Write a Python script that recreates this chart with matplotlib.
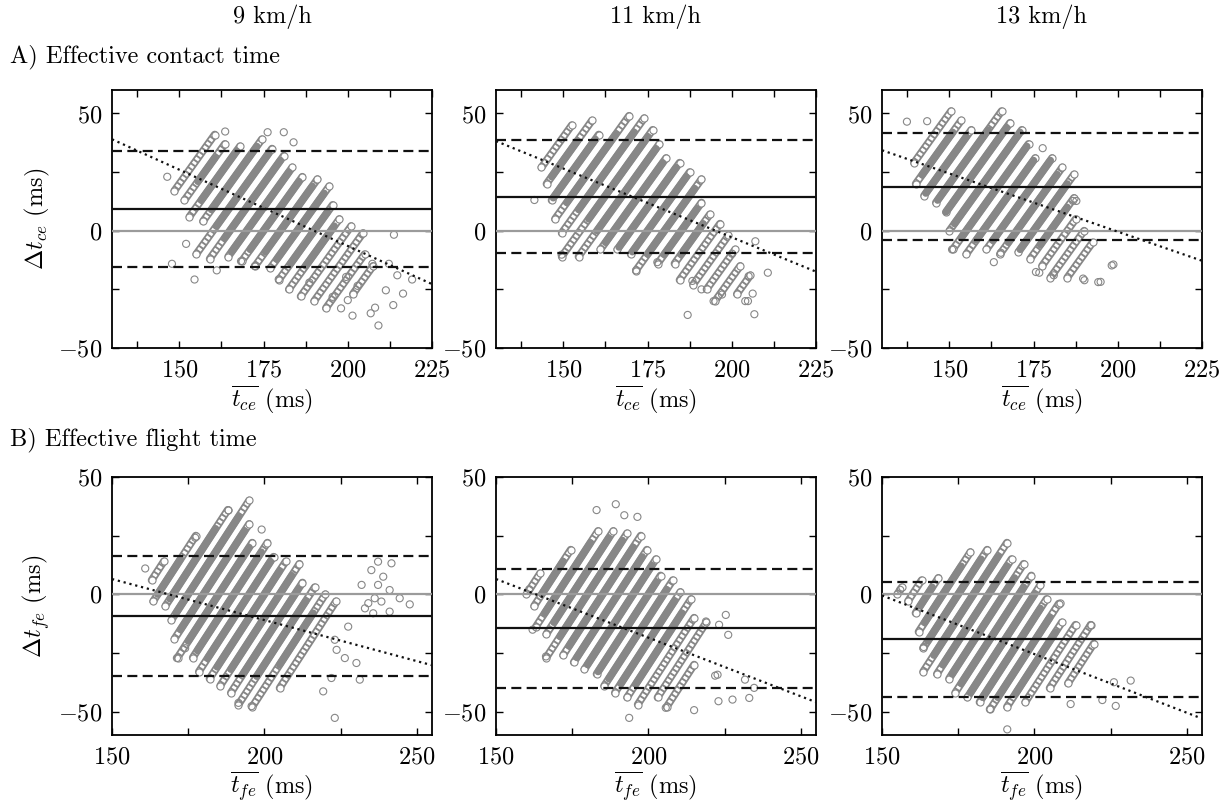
import matplotlib
matplotlib.use('Agg')
import matplotlib.pyplot as plt
import matplotlib.patheffects as pe
import numpy as np

plt.rcParams['font.family'] = 'serif'
plt.rcParams['font.serif'] = ['cmr10']
plt.rcParams['mathtext.fontset'] = 'cm'
plt.rcParams['axes.formatter.use_mathtext'] = True
plt.rcParams['font.size'] = 17.5

GREY = '#878787'

speeds = ['9 km/h', '11 km/h', '13 km/h']

# stripes: (reference value b, chain low, chain high, dense low, dense high) -- diff = 2*(mean - b)
# ---- A) effective contact time ----
A9_stripes = [
    (140, 17, 41, None, None), (145, 13, 37, 21, 31), (150, 6, 36, 13, 34),
    (155, 4, 39, 9, 36), (160, -10, 35, 2, 33), (165, -12, 32, -3, 30),
    (170, -11, 27, -9, 25), (175, -13, 23, -8, 21), (180, -15, 22, -9, 19),
    (185, -16, 19, -12, 16), (190, -21, 11, -14, 8), (195, -25, 5, -15, 2),
    (200, -28, 2, None, None), (205, -30, -1, None, None), (210, -33, -10, None, None),
    (215, -27, -15, None, None),
]
A9_px = [146.4, 147.8, 154.5, 152.0, 163.6, 176.2, 181.0, 183.9, 161.1, 168.3, 172.4, 213.7,
         219.1, 216.4, 213.5, 209.1, 208.1, 206.8, 201.4, 198.0, 200.0, 195.5, 202.9, 199.5,
         188.6, 179.5, 211.3, 214.7, 212.2, 207.3]
A9_py = [23, -14.1, -20.8, -5.6, 42.3, 42, 42, 37.7, -16.9, -13, -15.1, -1.7,
         -20.8, -26.8, -31.7, -40.4, -32.8, -35.2, -36.2, -33.1, -29.6, -28.2, -23.5, -19.7,
         -22.1, -20.7, -25.4, -19, -14.1, -14.1]
A9_lines = [9.2, -15.5, 33.8]      # bias, lower LoA, upper LoA
A9_reg = [123.5, -0.65]            # intercept, slope

A11_stripes = [
    (130, 27, 45, None, None), (135, 20, 47, 23, 38), (140, 13, 41, 14, 39),
    (145, 5, 49, 12, 41), (150, -1, 48, 9, 42), (155, -11, 43, 5, 40),
    (160, -11, 37, 0, 35), (165, -8, 31, -5, 29), (170, -8, 29, -7, 27),
    (175, -10, 25, -9, 23), (180, -17, 22, -10, 18), (185, -14, 12, -10, 9),
    (190, -14, 7, -10, 3), (195, -21, 3, None, None), (200, -23, -2, None, None),
    (205, -25, -8, None, None), (210, -30, -15, None, None), (215, -27, -19, None, None),
]
A11_px = [141.4, 186.9, 206.7, 210.7, 207.0, 171.6, 204.8, 206.2, 200.1, 205.0, 204.0,
          197.1, 194.6, 191.0, 188.3, 177.9, 149.5]
A11_py = [13.1, -35.9, -35.6, -17.9, -4.5, -16.9, -30, -26.8, -9.8, -19.4, -30,
          -27.2, -30, -25, -21.4, -13.4, -10.2]
A11_lines = [14.5, -9.6, 38.7]
A11_reg = [114.4, -0.586]

A13_stripes = [
    (125, 29, 51, None, None), (130, 20, 47, 24, 42), (135, 15, 43, 16, 40),
    (140, 12, 51, 13, 43), (145, 8, 46, 8, 44), (150, 0, 43, 3, 42),
    (155, -8, 37, -3, 36), (160, -10, 31, -4, 30), (165, -8, 31, -4, 30),
    (170, -10, 27, -5, 24), (175, -9, 24, -8, 20), (180, -12, 14, -6, 10),
    (185, -15, 5, None, None), (190, -20, 0, None, None), (195, -20, -5, None, None),
]
A13_px = [137.4, 143.4, 177.7, 186.7, 198.2, 194.2, 189.7, 175.7, 150.8, 163.2, 165.3,
          176.7, 181.0, 190.1, 194.9, 198.7, 187.7]
A13_py = [46.5, 46.7, 35.2, 12.7, -14.8, -21.9, -20.4, -17.6, -8, -13.4, -9.4,
          -17.9, -19, -21.1, -21.8, -14.4, 12.7]
A13_lines = [18.7, -4.0, 41.5]
A13_reg = [98.8, -0.496]

# ---- B) effective flight time ----
B9_stripes = [
    (160, 6, 14, None, None), (165, -3, 25, 0, 15), (170, -5, 36, -2, 28),
    (175, -11, 40, -8, 33), (180, -19, 30, -15, 27), (185, -27, 22, -20, 20),
    (190, -27, 22, -24, 18), (195, -33, 16, -27, 14), (200, -36, 14, -31, 10),
    (205, -39, 13, -32, 8), (210, -42, 5, -34, 2), (215, -47, 3, -35, -3),
    (220, -48, 0, -30, -8), (225, -40, -3, None, None),
]
B9_px = [160.9, 177.3, 199.1, 188.2, 171.3, 174.0, 191.5, 195.8, 223.1, 219.3, 231.3,
         230.2, 226.4, 222.0, 231.9, 235.1, 237.3, 241.7, 239.0, 237.3, 241.1, 241.1,
         244.4, 247.7, 233.0, 234.1, 236.2, 235.7, 238.4, 227.5, 223.1, 223.7]
B9_py = [11, 24.1, 27.6, 35.8, -27.2, -23, -46.3, -47.7, -52.7, -41.4, -36.4,
         -29.3, -27.2, -35.7, 4, 10.3, 13.9, 13.2, 7.5, 4, 1.8, -7.4,
         -1.7, -4.3, -6, -3.8, -1.7, -8.1, -3.1, -13.8, -19.4, -23.7]
B9_lines = [-9.1, -34.7, 16.4]
B9_reg = [59.0, -0.35]

B11_stripes = [
    (160, 0, 9, None, None), (165, -5, 19, 0, 14), (170, -14, 27, -8, 22),
    (175, -17, 27, -12, 24), (180, -27, 26, -18, 23), (185, -26, 25, -22, 20),
    (190, -29, 19, -27, 16), (195, -32, 15, -30, 12), (200, -34, 8, -33, 5),
    (205, -39, 6, -36, 2), (210, -42, 1, -38, -3), (215, -44, -2, -38, -8),
    (220, -47, -10, None, None), (225, -44, -12, None, None), (230, -48, -30, None, None),
]
B11_px = [183.0, 189.3, 192.1, 196.4, 160.9, 162.0, 166.4, 225.4, 223.2, 226.2, 193.7,
          205.7, 215.0, 223.0, 227.6, 233.1, 234.7, 231.7, 221.9, 218.9, 222.7]
B11_py = [35.9, 38.4, 33.7, 33, 2.1, -15.1, -26.5, -8.8, -13, -17.3, -52.7,
          -48.4, -49.4, -45.6, -44.9, -44.2, -39.9, -36.4, -34.7, -11.6, -34.3]
B11_lines = [-14.4, -39.9, 10.8]
B11_reg = [81.5, -0.5]

B13_stripes = [
    (155, 0, 3, None, None), (160, -3, 6, None, None), (165, -8, 7, -5, 3),
    (170, -16, 18, -12, 12), (175, -23, 19, -20, 15), (180, -33, 22, -26, 16),
    (185, -34, 15, -30, 12), (190, -36, 13, -34, 7), (195, -42, 8, -38, 3),
    (200, -44, 4, -42, 0), (205, -46, -2, -44, -6), (210, -49, -4, -44, -10),
    (215, -48, -12, -42, -16), (220, -46, -13, None, None), (225, -40, -13, None, None),
    (230, -38, -21, None, None),
]
B13_px = [191.1, 226.1, 231.6, 226.7, 222.3, 208.6, 163.7, 156.0, 211.9, 185.4, 218.5]
B13_py = [-57.6, -37.5, -36.8, -47.6, -45.1, -3.9, -22.5, 1.9, -46.8, -49, -13.2]
B13_lines = [-19.2, -43.6, 5.2]
B13_reg = [74.5, -0.5]

# chain of overlapping open circles: grey band with a broken white core
CHAIN = [pe.Stroke(linewidth=5.6, foreground=GREY, capstyle='round'),
         pe.Stroke(linewidth=3.0, foreground='white', capstyle='butt',
                   dashes={'dash_offset': 0, 'dash_list': [2.0, 1.4]})]


def draw_panel(ax, stripes, px, py, lines, reg, xlim, ylim, xmajor, xminor):
    for b, clo, chi, dlo, dhi in stripes:
        ax.plot([b + clo / 2, b + chi / 2], [clo, chi], color=GREY, path_effects=CHAIN)
        ax.scatter([b + clo / 2, b + chi / 2], [clo, chi], s=26, facecolors='white',
                   edgecolors=GREY, linewidths=0.8, zorder=2.1)
        if dlo is not None:
            ax.plot([b + dlo / 2, b + dhi / 2], [dlo, dhi], color=GREY, lw=5.2,
                    solid_capstyle='round', zorder=2.2)
    ax.scatter(px, py, s=26, facecolors='none', edgecolors=GREY, linewidths=0.8, zorder=2.3)

    bias, loa_lo, loa_hi = lines
    ax.axhline(0, color='#9b9b9b', lw=1.6, zorder=3)
    ax.axhline(bias, color='#111111', lw=1.6, zorder=3)
    ax.axhline(loa_lo, color='#111111', lw=1.6, ls=(0, (4.5, 2.4)), zorder=3)
    ax.axhline(loa_hi, color='#111111', lw=1.6, ls=(0, (4.5, 2.4)), zorder=3)
    xs = np.array(xlim, dtype=float)
    ax.plot(xs, reg[0] + reg[1] * xs, color='#111111', lw=1.6, ls=(0, (1, 1.7)), zorder=3)

    ax.set_xlim(xlim)
    ax.set_ylim(ylim)
    ax.set_xticks(xmajor)
    ax.set_xticks(xminor, minor=True)
    ax.set_yticks([-50, 0, 50])
    ax.set_yticks([-25, 25], minor=True)
    ax.tick_params(which='both', direction='in', top=True, right=True,
                   length=5, width=1.0, pad=7)
    ax.tick_params(axis='x', which='both', pad=8)
    for sp in ax.spines.values():
        sp.set_linewidth(1.3)


fig = plt.figure(figsize=(12.28, 8.01), dpi=100)

lefts = [112 / 1228, 496 / 1228, 882 / 1228]
width = 320 / 1228
height = 258 / 801
bottom_a = 1 - 348 / 801
bottom_b = 1 - 735 / 801

row_a = [(A9_stripes, A9_px, A9_py, A9_lines, A9_reg),
         (A11_stripes, A11_px, A11_py, A11_lines, A11_reg),
         (A13_stripes, A13_px, A13_py, A13_lines, A13_reg)]
row_b = [(B9_stripes, B9_px, B9_py, B9_lines, B9_reg),
         (B11_stripes, B11_px, B11_py, B11_lines, B11_reg),
         (B13_stripes, B13_px, B13_py, B13_lines, B13_reg)]

for i, left in enumerate(lefts):
    ax = fig.add_axes([left, bottom_a, width, height])
    draw_panel(ax, *row_a[i], xlim=(130, 225), ylim=(-50, 60),
               xmajor=[150, 175, 200, 225], xminor=[137.5, 162.5, 187.5, 212.5])
    ax.set_xlabel(r'$\overline{t_{ce}}$ (ms)', labelpad=2)
    if i == 0:
        ax.set_ylabel(r'$\Delta t_{ce}$ (ms)', labelpad=4)
    fig.text(left + width / 2, 1 - 17 / 801, speeds[i], ha='center', va='center')

    ax = fig.add_axes([left, bottom_b, width, height])
    draw_panel(ax, *row_b[i], xlim=(150, 255), ylim=(-60, 50),
               xmajor=[150, 200, 250], xminor=[175, 225])
    ax.set_xlabel(r'$\overline{t_{fe}}$ (ms)', labelpad=1)
    if i == 0:
        ax.set_ylabel(r'$\Delta t_{fe}$ (ms)', labelpad=4)

fig.text(10 / 1228, 1 - 57 / 801, 'A) Effective contact time', ha='left', va='center')
fig.text(10 / 1228, 1 - 440 / 801, 'B) Effective flight time', ha='left', va='center')

fig.savefig('out.png', dpi=100)
